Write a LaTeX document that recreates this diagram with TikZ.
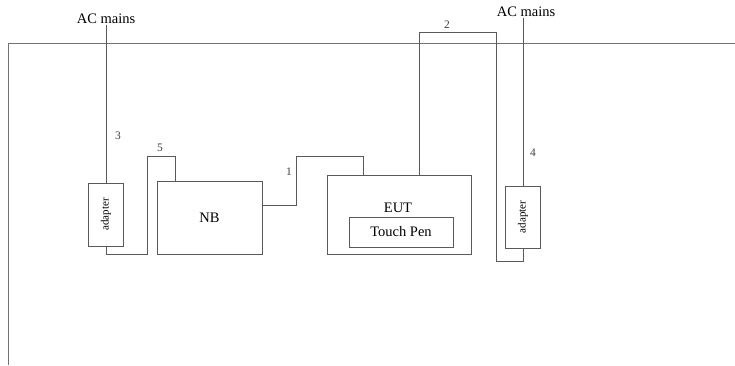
\documentclass[tikz,border=0pt]{standalone}
\usepackage{fontspec}
\setmainfont{Liberation Serif}
\usetikzlibrary{positioning}

\tikzset{
  unit/.style={draw=black!65, line width=1pt, inner sep=0pt, font=\fontsize{14.5}{16}\selectfont},
  adapterbox/.style={unit, minimum width=35pt, minimum height=63pt},
  cable/.style={draw=black!65, line width=1pt},
  num/.style={font=\fontsize{11.5}{12}\selectfont, text=black!75, inner sep=1pt},
}

\begin{document}
\begin{tikzpicture}[x=1pt, y=-1pt]
  \useasboundingbox (0,0) rectangle (735,365);

  % Table
  \draw[draw=black!55, line width=1pt] (735,43) -- (8,43) -- (8,365);

  % Units
  \node[adapterbox] (adapterL) at (106,214.5) {\rotatebox{90}{\fontsize{11}{12}\selectfont adapter}};
  \node[unit, minimum width=105pt, minimum height=73pt] (nb) at (209.5,217.5) {NB};
  \node[unit, minimum width=144pt, minimum height=79pt] (eut) at (399,214.5) {};
  \node[font=\fontsize{14.5}{16}\selectfont] (euttext) at (398,208) {EUT};
  \node[unit, minimum width=104pt, minimum height=30pt] (pen) at (401,232) {Touch Pen};
  \node[adapterbox, minimum height=62pt] (adapterR) at (523,217) {\rotatebox{90}{\fontsize{11}{12}\selectfont adapter}};

  % Mains
  \node[font=\fontsize{14.5}{16}\selectfont, inner sep=1pt] (acL) at (106,19) {AC mains};
  \node[font=\fontsize{14.5}{16}\selectfont, inner sep=1pt] (acR) at (526,12) {AC mains};

  % Cables
  \draw[cable] (adapterL.north) -- (adapterL.north |- acL.south);
  \draw[cable] (adapterR.north) -- (adapterR.north |- acR.south);
  \draw[cable] (adapterL.south) -- ++(0,8) -| (147,156) -| ([xshift=-34.5pt]nb.north);
  \draw[cable] ([yshift=12.5pt]nb.east) -| (296,156) -| ([xshift=-36pt]eut.north);
  \draw[cable] ([xshift=20pt]eut.north) |- (496,32) |- (523,261) -- (adapterR.south);

  % Cable numbers
  \node[num] (n1) at (289,172) {1};
  \node[num] (n2) at (447,25) {2};
  \node[num] (n3) at (118,136) {3};
  \node[num] (n4) at (533,153) {4};
  \node[num] (n5) at (160,148) {5};
\end{tikzpicture}
\end{document}
